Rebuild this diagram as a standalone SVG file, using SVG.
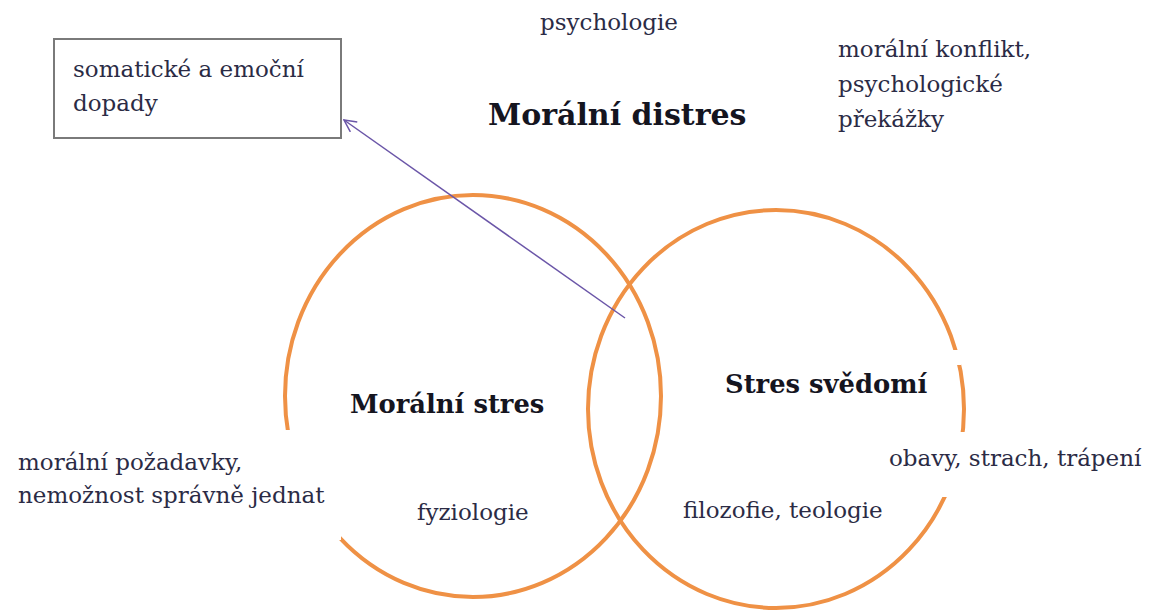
<svg xmlns="http://www.w3.org/2000/svg" width="1150" height="613" viewBox="0 0 1150 613">
<style>
.ring{fill:none;stroke:#ef9145;stroke-width:4}
.mask{fill:#ffffff;stroke:none}
.t{font-family:"DejaVu Serif","Liberation Serif",serif;font-size:23px;fill:#2b2b45}
.b{font-family:"DejaVu Serif","Liberation Serif",serif;font-size:25.8px;font-weight:bold;fill:#15151f}
.bt{font-size:30px}
</style>
<defs>
<marker id="open" viewBox="0 0 14 14" refX="13" refY="7" markerWidth="14" markerHeight="14" markerUnits="userSpaceOnUse" orient="auto">
<path d="M1,1 L13,7 L1,13" fill="none" stroke="#6b56a8" stroke-width="1.5"/>
</marker>
</defs>
<rect width="1150" height="613" fill="#ffffff"/>
<g id="moralni-stres">
<ellipse class="ring" cx="473" cy="396" rx="188" ry="201"/>
</g>
<g id="stres-svedomi">
<ellipse class="ring" cx="776" cy="409" rx="188" ry="199"/>
</g>
<g id="masks">
<rect class="mask" x="10" y="430" width="331" height="110"/>
<rect class="mask" x="700" y="350" width="261" height="15"/>
<rect class="mask" x="884" y="432" width="262" height="65"/>
</g>
<g id="somaticke">
<rect x="54" y="39" width="287" height="99" fill="#ffffff" stroke="#7a7a7a" stroke-width="2"/>
<text class="t" x="73" y="77">somatické a emoční</text>
<text class="t" x="73" y="111">dopady</text>
</g>
<g id="connectors">
<line x1="625" y1="318" x2="344" y2="120" stroke="#6b56a8" stroke-width="1.5" marker-end="url(#open)"/>
</g>
<g id="psychologie">
<text class="t" x="540" y="30">psychologie</text>
</g>
<g id="moralni-distres">
<text class="b bt" x="488" y="125">Morální distres</text>
</g>
<g id="konflikt">
<text class="t" x="838" y="57">morální konflikt,</text>
<text class="t" x="838" y="92">psychologické</text>
<text class="t" x="838" y="127">překážky</text>
</g>
<g id="moralni-stres-label">
<text class="b" x="350" y="413">Morální stres</text>
</g>
<g id="stres-svedomi-label">
<text class="b" x="725" y="393">Stres svědomí</text>
</g>
<g id="pozadavky">
<text class="t" x="18" y="470">morální požadavky,</text>
<text class="t" x="18" y="503">nemožnost správně jednat</text>
</g>
<g id="fyziologie">
<text class="t" x="417" y="520">fyziologie</text>
</g>
<g id="filozofie">
<text class="t" x="683" y="518">filozofie, teologie</text>
</g>
<g id="obavy">
<text class="t" x="889" y="466">obavy, strach, trápení</text>
</g>
</svg>
